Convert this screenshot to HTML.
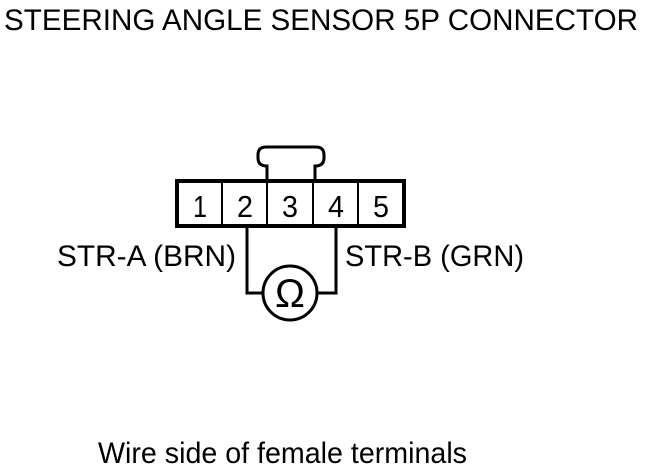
<!DOCTYPE html>
<html><head><style>
body{margin:0;background:#fff;}
svg{display:block}
text{font-family:"Liberation Sans",sans-serif;fill:#000}
</style></head><body>
<svg width="672" height="468" viewBox="0 0 672 468">
<text x="4" y="30" font-size="30" textLength="634" lengthAdjust="spacingAndGlyphs">STEERING ANGLE SENSOR 5P CONNECTOR</text>
<path d="M267,180 V166 Q258,166 258,158 V155 Q258,147 266,147 H316 Q324,147 324,155 V158 Q324,166 315,166 V180" fill="#fff" stroke="#000" stroke-width="3"/>
<rect x="177" y="181" width="227" height="45" fill="#fff" stroke="#000" stroke-width="4"/>
<g stroke="#000" stroke-width="2">
<line x1="222" y1="181" x2="222" y2="226"/>
<line x1="267" y1="181" x2="267" y2="226"/>
<line x1="313" y1="181" x2="313" y2="226"/>
<line x1="358" y1="181" x2="358" y2="226"/>
</g>
<g font-size="31" text-anchor="middle">
<text x="200" y="217" textLength="14" lengthAdjust="spacingAndGlyphs">1</text><text x="245" y="217" textLength="16" lengthAdjust="spacingAndGlyphs">2</text><text x="290" y="217" textLength="16" lengthAdjust="spacingAndGlyphs">3</text><text x="336" y="217" textLength="16" lengthAdjust="spacingAndGlyphs">4</text><text x="381" y="217" textLength="16" lengthAdjust="spacingAndGlyphs">5</text>
</g>
<path d="M247,227 V293 H263 M317,293 H336 V227" fill="none" stroke="#000" stroke-width="3"/>
<circle cx="290" cy="293" r="27" fill="#fff" stroke="#000" stroke-width="3"/>
<text x="290" y="307" font-size="40" text-anchor="middle">Ω</text>
<text x="57" y="266" font-size="30" textLength="179" lengthAdjust="spacingAndGlyphs">STR-A (BRN)</text>
<text x="345" y="266" font-size="30" textLength="179" lengthAdjust="spacingAndGlyphs">STR-B (GRN)</text>
<text x="98" y="463" font-size="30" textLength="369" lengthAdjust="spacingAndGlyphs">Wire side of female terminals</text>
</svg>
</body></html>
